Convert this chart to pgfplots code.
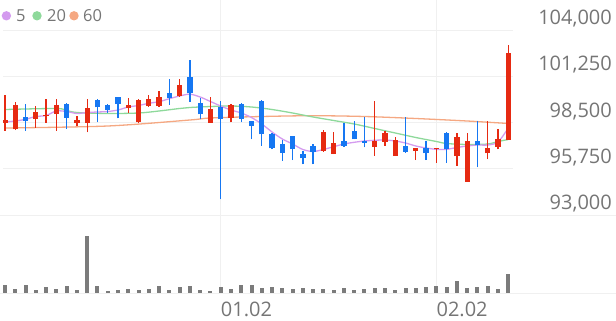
\documentclass[border=0pt]{standalone}
\usepackage{pgfplots}
\pgfplotsset{compat=1.18}
\usepackage{pgfplotstable}
\usepackage{fontspec}
\setmainfont{Open Sans}
\definecolor{cup}{HTML}{E62A12}
\definecolor{cdn}{HTML}{1677F2}
\definecolor{cma5}{HTML}{D49BEF}
\definecolor{cma20}{HTML}{8ED99B}
\definecolor{cma60}{HTML}{F5A882}
\definecolor{cvol}{HTML}{7B7B7B}
\definecolor{cgrid}{HTML}{F0F0F0}
\definecolor{ctxt}{HTML}{757575}

\pgfplotstableread{
i O H L C
0 98488 100135 98013 98649
1 98096 99719 98054 99523
3 98708 99481 98191 99106
4 98887 99897 98488 98928
5 99005 99897 98013 99523
7 98470 98904 98310 98631
8 98488 99897 97917 99344
12 99380 99975 99083 99523
13 98512 99880 98488 99856
14 99481 100135 99440 99915
15 99481 100391 99440 100034
17 100076 101087 100034 100748
20 98488 99998 98488 99321
22 98785 99600 98512 99523
31 96805 98054 96764 97935
32 96627 97917 96627 97263
36 97061 99796 96526 97400
37 97358 98013 97103 97858
38 96508 97620 96508 97460
40 96805 97002 96270 97002
42 96906 96966 96110 96966
44 96508 97894 95914 97620
45 94980 97894 94980 97418
47 96669 98607 96312 97002
48 97061 98096 96906 97519
49 97460 103108 97460 102650
}\upt

\pgfplotstableread{
i O H L C
2 98809 99600 98013 98589
6 99618 99642 98114 98785
9 99838 99880 98512 99404
10 99523 99582 99083 99243
11 100034 100034 98750 99600
16 100236 101087 99541 99975
18 101223 102216 99737 100236
19 99642 99975 98708 98988
21 99440 99796 93934 98708
23 99600 99642 98512 98708
24 98607 98607 97501 98310
25 99796 99838 97103 97798
26 97816 97858 96924 96966
27 97222 97460 96211 96704
28 97697 97697 96270 96906
29 96645 96805 96015 96371
30 97121 97204 96015 96764
33 97418 98488 97061 97103
34 98013 98607 97501 97501
35 97418 98809 97025 97299
39 97103 98809 96704 96764
41 97002 97418 96270 96669
43 97894 97953 96110 96906
46 97418 98607 95836 97162
}\dnt

\pgfplotstableread{
i v
0 98530
1 98589
2 98690
3 98857
4 98916
5 99184
6 99154
7 99035
8 99095
9 99124
10 99154
11 99243
12 99422
13 99511
14 99642
15 99737
16 99915
17 100076
18 100183
19 100016
20 99749
21 99481
22 99243
23 99065
24 98797
25 98411
26 97935
27 97519
28 97222
29 96895
30 96776
31 96895
32 97061
33 97222
34 97323
35 97400
36 97442
37 97460
38 97400
39 97281
40 97103
41 96984
42 96906
43 96906
44 97014
45 97103
46 97162
47 97162
48 97341
49 98173
}\maf

\pgfplotstableread{
i v
0 99273
5 99333
6 99214
7 99095
10 99035
13 99065
15 99184
17 99333
18 99392
20 99451
22 99481
24 99422
26 99273
28 99065
30 98827
32 98619
34 98411
36 98143
38 97876
40 97608
42 97370
43 97251
45 97192
47 97222
48 97370
49 97489
}\mat

\pgfplotstableread{
i v
0 98173
10 98292
18 98649
20 98768
25 98857
30 98904
35 98857
40 98738
45 98589
49 98441
}\mas

\pgfplotstableread{
i vol
0 8300
1 5000
2 8300
3 3300
4 6700
5 5000
6 7300
7 3300
8 57700
9 7300
10 2300
11 3300
12 5000
13 4000
14 4300
15 7700
16 4000
17 6700
18 7300
19 4000
20 2700
21 6700
22 4300
23 9000
24 9000
25 6000
26 6700
27 6000
28 5000
29 6000
30 4700
31 4700
32 3300
33 6000
34 3300
35 4300
36 6000
37 5300
38 4000
39 6000
40 6000
41 6700
42 7300
43 6700
44 12300
45 6000
46 6700
47 7300
48 5000
49 19300
}\volt

\begin{document}
\begin{tikzpicture}
\path[use as bounding box] (0,0) rectangle (616pt,-321pt);
\begin{axis}[
  at={(3pt,0pt)}, anchor=north west, scale only axis,
  width=510pt, height=215pt,
  xmin=-0.195, xmax=49.46, ymin=93000, ymax=105784,
  axis line style={draw=none}, major tick length=0pt,
  xtick={21,42}, xticklabels={},
  ytick={93000,95750,98500,101250,104000},
  yticklabels={{93,000},{95,750},{98,500},{101,250},{104,000}},
  yticklabel pos=right,
  yticklabel style={anchor=base east, inner sep=0pt, xshift=99pt, yshift=5.5pt,
     font=\fontsize{20}{20}\selectfont, text=ctxt},
  xmajorgrids, ymajorgrids,
  grid style={draw=cgrid, line width=1pt},
  candle/.style={draw=none, mark=none, forget plot,
    error bars/.cd, y dir=plus, y explicit, error mark=none,
    error bar style={draw=#1}},
]
\addplot[cma60, line width=1.3pt, smooth, tension=0.5] table[x=i,y=v] {\mas};
\addplot[cma20, line width=1.3pt, smooth, tension=0.5] table[x=i,y=v] {\mat};
\addplot[cma5, line width=1.3pt, smooth, tension=0.5] table[x=i,y=v] {\maf};
% wicks
\addplot[draw=none, mark=none, forget plot,
  error bars/.cd, y dir=plus, y explicit, error mark=none,
  error bar style={draw=cup, line width=1.3pt}]
  table[x=i, y=L, y error plus expr=\thisrow{H}-\thisrow{L}] {\upt};
\addplot[draw=none, mark=none, forget plot,
  error bars/.cd, y dir=plus, y explicit, error mark=none,
  error bar style={draw=cdn, line width=1.3pt}]
  table[x=i, y=L, y error plus expr=\thisrow{H}-\thisrow{L}] {\dnt};
% bodies
\addplot[draw=none, mark=none, forget plot,
  error bars/.cd, y dir=plus, y explicit, error mark=none,
  error bar style={draw=cup, line width=5.3pt}]
  table[x=i, y=O, y error plus expr=\thisrow{C}-\thisrow{O}] {\upt};
\addplot[draw=none, mark=none, forget plot,
  error bars/.cd, y dir=plus, y explicit, error mark=none,
  error bar style={draw=cdn, line width=5.3pt}]
  table[x=i, y=C, y error plus expr=\thisrow{O}-\thisrow{C}] {\dnt};
\end{axis}
\begin{axis}[
  at={(3pt,-215pt)}, anchor=north west, scale only axis,
  width=510pt, height=78.5pt,
  xmin=-0.195, xmax=49.46, ymin=0, ymax=78500,
  axis line style={draw=none}, major tick length=0pt,
  ytick=\empty,
  xtick={21,42}, xticklabels={01.02,02.02},
  xticklabel style={anchor=base west, inner sep=0pt, yshift=-23.2pt,
     font=\fontsize{20}{20}\selectfont, text=ctxt},
  xmajorgrids,
  grid style={draw=cgrid, line width=1pt},
]
\addplot[ycomb, draw=cvol, line width=4pt, mark=none] table[x=i,y=vol] {\volt};
\end{axis}
\draw[cgrid, line width=1pt] (0,-215pt) -- (616pt,-215pt);
\draw[cgrid, line width=1pt] (0,-293.5pt) -- (616pt,-293.5pt);
\fill[cma5] (6.4pt,-15.8pt) circle (4.7pt);
\node[anchor=base west, inner sep=0pt, font=\fontsize{16.5}{16.5}\selectfont, text=ctxt] at (16pt,-21.7pt) {5};
\fill[cma20] (37pt,-15.8pt) circle (4.7pt);
\node[anchor=base west, inner sep=0pt, font=\fontsize{16.5}{16.5}\selectfont, text=ctxt] at (47pt,-21.7pt) {20};
\fill[cma60] (74pt,-15.8pt) circle (4.7pt);
\node[anchor=base west, inner sep=0pt, font=\fontsize{16.5}{16.5}\selectfont, text=ctxt] at (83pt,-21.7pt) {60};
\end{tikzpicture}
\end{document}
